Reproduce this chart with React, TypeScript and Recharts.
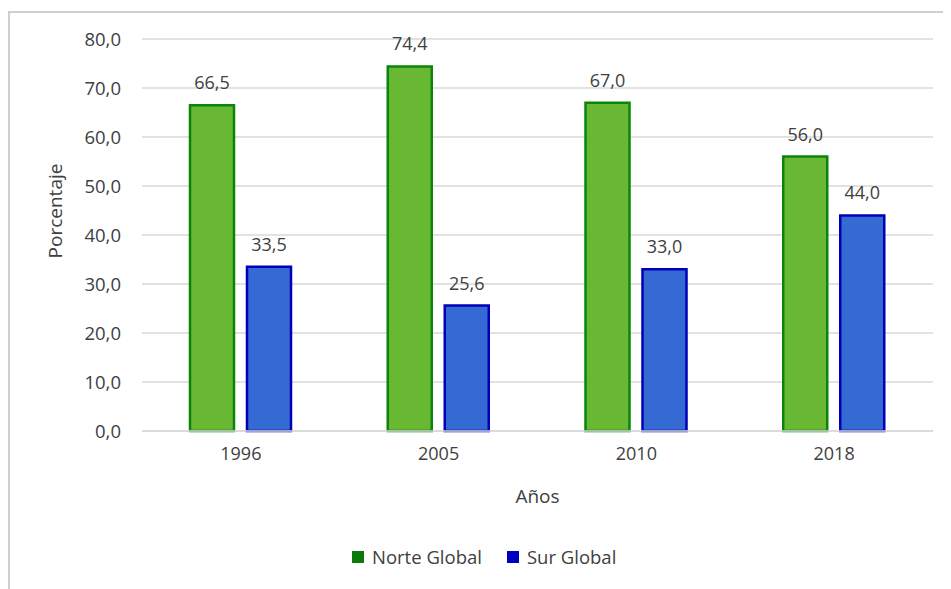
import React from 'react';
import { BarChart, Bar, XAxis, YAxis, CartesianGrid, Legend, LabelList, Label } from 'recharts';

// Years on the category axis
const years = ['1996', '2005', '2010', '2018'];
// Share (%) for each region
const norteGlobal = [66.5, 74.4, 67.0, 56.0];
const surGlobal = [33.5, 25.6, 33.0, 44.0];
// Value-axis ticks
const yTicks = [0, 10, 20, 30, 40, 50, 60, 70, 80];

const data = years.map((year, i) => ({ year, norte: norteGlobal[i], sur: surGlobal[i] }));

const FONT = '"Open Sans", "Noto Sans", sans-serif';
const fmt = (v: number) => v.toFixed(1).replace('.', ',');

const W = 943;
const H = 581;

const legendItems = [
  { label: 'Norte Global', color: '#0A7A0A' },
  { label: 'Sur Global', color: '#0000C0' },
];

const LegendContent = () => (
  <div
    style={{
      display: 'flex',
      justifyContent: 'flex-start',
      alignItems: 'center',
      paddingLeft: 344,
      fontFamily: FONT,
      fontSize: 18.5,
      color: '#404040',
    }}
  >
    {legendItems.map((it, i) => (
      <div key={it.label} style={{ display: 'flex', alignItems: 'center', marginLeft: i ? 25 : 0 }}>
        <span style={{ width: 12, height: 12, background: it.color, display: 'inline-block', marginRight: 8 }} />
        <span>{it.label}</span>
      </div>
    ))}
  </div>
);

export default function App() {
  return (
    <div style={{ position: 'relative', width: W, height: H, background: '#fff' }}>
      <div
        style={{
          position: 'absolute',
          left: 0,
          top: 3,
          right: -10,
          bottom: -20,
          borderTop: '2px solid #cfcfcf',
          borderLeft: '2px solid #cfcfcf',
          pointerEvents: 'none',
        }}
      />
      <BarChart
        width={W}
        height={H}
        data={data}
        margin={{ top: 31, right: 18, left: 20, bottom: 78 }}
        barSize={44}
        barGap={13}
      >
        <CartesianGrid vertical={false} stroke="#d9d9d9" strokeWidth={1.5} />
        <XAxis
          dataKey="year"
          height={80}
          axisLine={{ stroke: '#d9d9d9', strokeWidth: 1.5 }}
          tickLine={false}
          tickMargin={10}
          tick={{ fill: '#404040', fontFamily: FONT, fontSize: 18 }}
        >
          <Label
            content={({ viewBox }: any) => (
              <text
                x={viewBox.x + viewBox.width / 2}
                y={viewBox.y + 72}
                textAnchor="middle"
                fill="#404040"
                fontFamily={FONT}
                fontSize={19}
              >
                Años
              </text>
            )}
          />
        </XAxis>
        <YAxis
          width={114}
          domain={[0, 80]}
          ticks={yTicks}
          interval={0}
          axisLine={false}
          tickLine={false}
          tickMargin={15}
          tickFormatter={fmt}
          tick={{ fill: '#404040', fontFamily: FONT, fontSize: 18.5 }}
        >
          <Label
            content={() => (
              <text
                x={47}
                y={203}
                transform="rotate(-90 47 203)"
                textAnchor="middle"
                dominantBaseline="central"
                fill="#404040"
                fontFamily={FONT}
                fontSize={19}
              >
                Porcentaje
              </text>
            )}
          />
        </YAxis>
        <Legend
          layout="horizontal"
          verticalAlign="middle"
          align="center"
          content={<LegendContent />}
          wrapperStyle={{ position: 'absolute', top: 536, left: 0, width: W }}
        />
        <Bar dataKey="norte" name="Norte Global" fill="#68B833" stroke="#0A850A" strokeWidth={2.5} isAnimationActive={false}>
          <LabelList
            dataKey="norte"
            position="top"
            offset={16}
            formatter={(v: any) => fmt(Number(v))}
            style={{ fill: '#404040', fontFamily: FONT, fontSize: 18 }}
          />
        </Bar>
        <Bar dataKey="sur" name="Sur Global" fill="#3569D4" stroke="#0000B8" strokeWidth={2.5} isAnimationActive={false}>
          <LabelList
            dataKey="sur"
            position="top"
            offset={16}
            formatter={(v: any) => fmt(Number(v))}
            style={{ fill: '#404040', fontFamily: FONT, fontSize: 18 }}
          />
        </Bar>
      </BarChart>
    </div>
  );
}
